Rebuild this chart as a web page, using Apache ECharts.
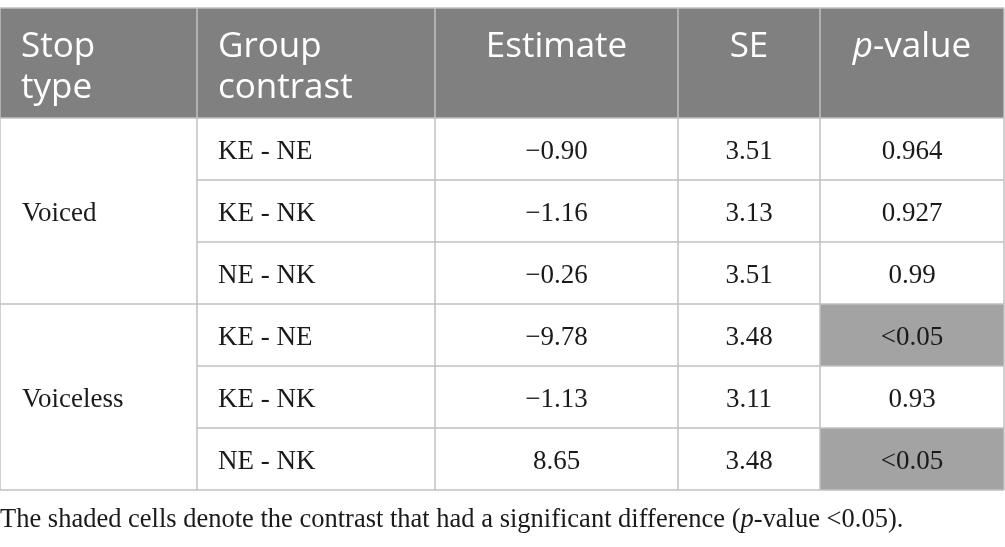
<!DOCTYPE html>
<html>
<head>
<meta charset="utf-8">
<script src="https://cdn.jsdelivr.net/npm/echarts@6/dist/echarts.min.js"></script>
<style>
  html, body { margin: 0; padding: 0; background: #fff; }
  #main { width: 1005px; height: 547px; }
</style>
</head>
<body>
<div id="main"></div>
<script>
// table data
var headers = ['Stop\ntype', 'Group\ncontrast', 'Estimate', 'SE', 'p-value']
var stopTypes = ['Voiced', 'Voiceless']
var contrasts = ['KE - NE', 'KE - NK', 'NE - NK', 'KE - NE', 'KE - NK', 'NE - NK']
var estimates = ['\u22120.90', '\u22121.16', '\u22120.26', '\u22129.78', '\u22121.13', '8.65']
var ses = ['3.51', '3.13', '3.51', '3.48', '3.11', '3.48']
var pValues = ['0.964', '0.927', '0.99', '<0.05', '0.93', '<0.05']
var shaded = [false, false, false, true, false, true]
var caption = 'The shaded cells denote the contrast that had a significant difference ({i|p}-value <0.05).'

// layout
var colX = [0, 197, 435, 678, 820, 1004]
var tableTop = 8
var headBottom = 118
var rowH = 62
var textShift = 3
var lineColor = '#c0c0c0'
var serif = '"Liberation Serif", "DejaVu Serif", serif'
var sans = '"Open Sans", "Noto Sans", sans-serif'

var chart = echarts.init(document.getElementById('main'))
var g = []

// header background
g.push({ type: 'rect', z: 1,
  shape: { x: colX[0], y: tableTop, width: colX[5] - colX[0], height: headBottom - tableTop },
  style: { fill: '#808080' } })

// shaded cells
for (var i = 0; i < shaded.length; i++) {
  if (shaded[i]) {
    g.push({ type: 'rect', z: 1,
      shape: { x: colX[4], y: headBottom + i * rowH, width: colX[5] - colX[4], height: rowH },
      style: { fill: '#a3a3a3' } })
  }
}

// header texts
for (var c = 0; c < headers.length; c++) {
  var left = c < 2
  var txt = headers[c]
  if (txt === 'p-value') txt = '{i|p}-value'
  g.push({ type: 'text', z: 5,
    x: left ? colX[c] + 21 : (colX[c] + colX[c + 1]) / 2, y: 27,
    style: { text: txt, fill: '#fff', fontFamily: sans, fontSize: 35,
      lineHeight: 41, align: left ? 'left' : 'center', verticalAlign: 'top',
      rich: { i: { fontStyle: 'italic', fontFamily: sans, fontSize: 35, lineHeight: 41, fill: '#fff' } } } })
}

// body
function cell(text, x, y, align) {
  return { type: 'text', z: 5, x: x, y: y + textShift,
    style: { text: text, fill: '#1a1a1a', fontFamily: serif, fontSize: 27, align: align, verticalAlign: 'middle' } }
}
for (var s = 0; s < stopTypes.length; s++) {
  g.push(cell(stopTypes[s], colX[0] + 22, headBottom + (s * 3 + 1.5) * rowH, 'left'))
}
for (var r = 0; r < contrasts.length; r++) {
  var cy = headBottom + (r + 0.5) * rowH
  g.push(cell(contrasts[r], colX[1] + 21, cy, 'left'))
  g.push(cell(estimates[r], (colX[2] + colX[3]) / 2, cy, 'center'))
  g.push(cell(ses[r], (colX[3] + colX[4]) / 2, cy, 'center'))
  g.push(cell(pValues[r], (colX[4] + colX[5]) / 2, cy, 'center'))
}

// grid lines
var tableBottom = headBottom + contrasts.length * rowH
var hLines = [tableTop, headBottom, tableBottom]
for (var k = 1; k < contrasts.length; k++) hLines.push(headBottom + k * rowH)
for (var h = 0; h < hLines.length; h++) {
  var y0 = hLines[h]
  var x0 = colX[0]
  if (y0 > headBottom && y0 < tableBottom && ((y0 - headBottom) / rowH) % 3 !== 0) x0 = colX[1]
  g.push({ type: 'line', z: 3, shape: { x1: x0, y1: y0, x2: colX[5], y2: y0 },
    style: { stroke: lineColor, lineWidth: 1.5 } })
}
for (var v = 0; v < colX.length; v++) {
  g.push({ type: 'line', z: 3, shape: { x1: colX[v], y1: tableTop, x2: colX[v], y2: tableBottom },
    style: { stroke: lineColor, lineWidth: 1.5 } })
}

// caption
g.push({ type: 'text', z: 5, x: 0, y: 520,
  style: { text: caption, fill: '#1a1a1a', fontFamily: serif, fontSize: 26.5, verticalAlign: 'middle',
    rich: { i: { fontStyle: 'italic', fontFamily: serif, fontSize: 26.5, fill: '#1a1a1a' } } } })

chart.setOption({ graphic: { elements: g } })
</script>
</body>
</html>
